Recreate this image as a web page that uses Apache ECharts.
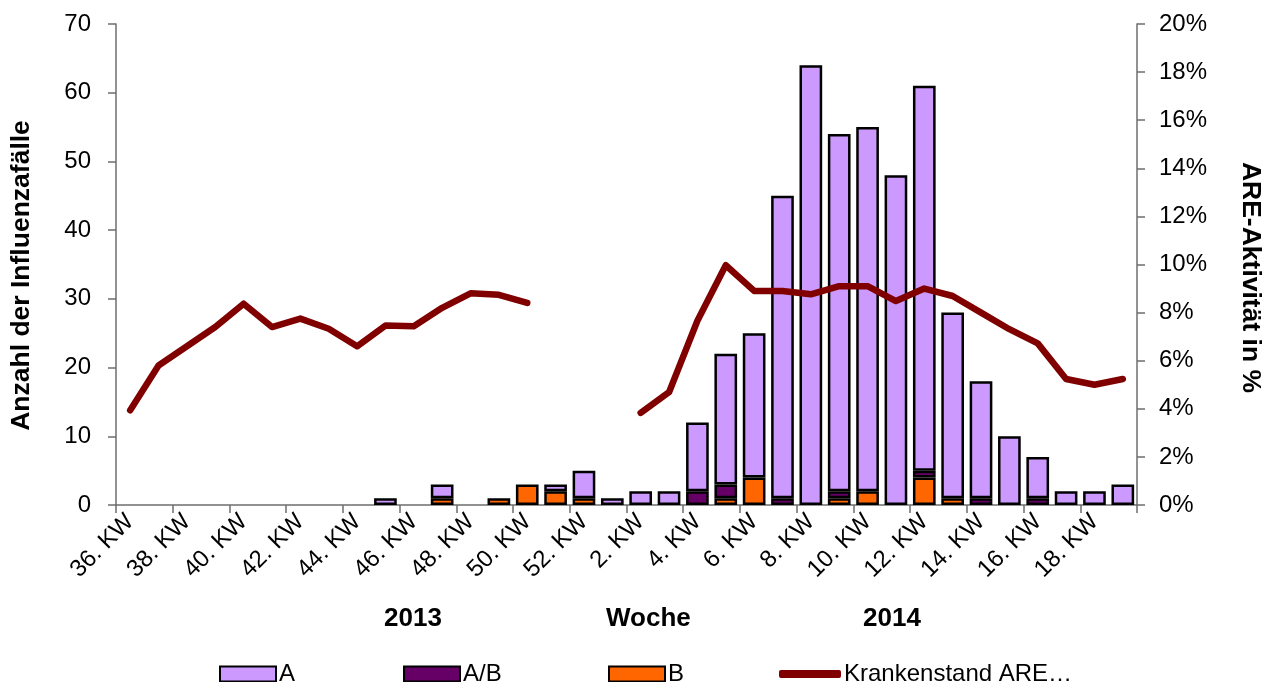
<!DOCTYPE html>
<html>
<head>
<meta charset="utf-8">
<script src="https://cdn.jsdelivr.net/npm/echarts@6/dist/echarts.min.js"></script>
<style>
  html, body { margin: 0; padding: 0; background: #ffffff; }
  #chart { width: 1264px; height: 682px; }
</style>
</head>
<body>
<div id="chart"></div>
<script>
// Calendar weeks: 36–52 of 2013, then 1–19 of 2014
const weeks = [36, 37, 38, 39, 40, 41, 42, 43, 44, 45, 46, 47, 48, 49, 50, 51, 52,
               1, 2, 3, 4, 5, 6, 7, 8, 9, 10, 11, 12, 13, 14, 15, 16, 17, 18, 19];
const weekLabels = weeks.map(w => w + '. KW');

// Influenza cases per week by type
const casesA  = [0, 0, 0, 0, 0, 0, 0, 0, 0, 1, 0, 2, 0, 0, 0, 1, 4,
                 1, 2, 2, 10, 19, 21, 44, 64, 52, 53, 48, 56, 27, 17, 10, 6, 2, 2, 3];
const casesAB = [0, 0, 0, 0, 0, 0, 0, 0, 0, 0, 0, 0, 0, 0, 0, 0, 0,
                 0, 0, 0, 2, 2, 0, 1, 0, 1, 0, 0, 1, 0, 1, 0, 1, 0, 0, 0];
const casesB  = [0, 0, 0, 0, 0, 0, 0, 0, 0, 0, 0, 1, 0, 1, 3, 2, 1,
                 0, 0, 0, 0, 1, 4, 0, 0, 1, 2, 0, 4, 1, 0, 0, 0, 0, 0, 0];

// ARE activity (sick leave rate) in percent; gaps over the turn of the year
const areActivity = [3.94, 5.8, 6.6, 7.4, 8.37, 7.4, 7.75, 7.33, 6.6, 7.46, 7.43, 8.2, 8.8, 8.74, 8.4, null, null,
                     null, 3.83, 4.69, 7.66, 9.97, 8.9, 8.9, 8.76, 9.1, 9.1, 8.48, 9.0, 8.69, 8.0, 7.31, 6.72, 5.24, 5.0, 5.24];

const leftTicks = { min: 0, max: 70, interval: 10 };
const rightTicks = { min: 0, max: 20, interval: 2 };

const FONT = '"Liberation Sans", Arial, sans-serif';
const axisGray = '#6e6e6e';

// empty weeks get no bar segment at all
const seg = arr => arr.map(v => (v === 0 ? '-' : v));

const barBorder = { borderColor: '#000000', borderWidth: 2.5 };

const chart = echarts.init(document.getElementById('chart'), null, { renderer: 'canvas' });

const legendBase = {
  top: 657,
  itemWidth: 56,
  itemHeight: 15,
  itemGap: 0,
  icon: 'rect',
  textStyle: { fontFamily: FONT, fontSize: 24, color: '#000000', padding: [0, 0, 0, -2] },
  selectedMode: false
};

chart.setOption({
  animation: false,
  backgroundColor: '#ffffff',
  textStyle: { fontFamily: FONT },
  grid: { left: 116, right: 127, top: 24, bottom: 177, containLabel: false, outerBoundsMode: 'none' },
  legend: [
    Object.assign({}, legendBase, { left: 214, data: ['A'] }),
    Object.assign({}, legendBase, { left: 398, data: ['A/B'] }),
    Object.assign({}, legendBase, { left: 603, data: ['B'] }),
    Object.assign({}, legendBase, { left: 774, itemWidth: 62, itemHeight: 8, icon: 'roundRect',
      data: ['Krankenstand ARE…'] })
  ],
  xAxis: {
    type: 'category',
    data: weekLabels,
    boundaryGap: true,
    axisLine: { lineStyle: { color: axisGray, width: 1.5 } },
    axisTick: { show: true, alignWithLabel: false, length: 8, inside: false,
                lineStyle: { color: axisGray, width: 1.5 } },
    axisLabel: { interval: 1, rotate: 45, margin: 13, fontSize: 24, color: '#000000', fontFamily: FONT },
    splitLine: { show: false }
  },
  yAxis: [
    {
      type: 'value',
      min: leftTicks.min, max: leftTicks.max, interval: leftTicks.interval,
      name: 'Anzahl der Influenzafälle',
      nameLocation: 'middle',
      nameRotate: 90,
      nameGap: 81,
      nameTextStyle: { fontFamily: FONT, fontSize: 26.5, fontWeight: 'bold', color: '#000000',
                       padding: [0, 0, 0, -22] },
      axisLine: { show: true, lineStyle: { color: axisGray, width: 1.5 } },
      axisTick: { show: true, length: 8, lineStyle: { color: axisGray, width: 1.5 } },
      axisLabel: { fontSize: 24, color: '#000000', margin: 25, fontFamily: FONT },
      splitLine: { show: false }
    },
    {
      type: 'value',
      position: 'right',
      min: rightTicks.min, max: rightTicks.max, interval: rightTicks.interval,
      name: 'ARE-Aktivität in %',
      nameLocation: 'middle',
      nameRotate: -90,
      nameGap: 100,
      nameTextStyle: { fontFamily: FONT, fontSize: 26.5, fontWeight: 'bold', color: '#000000',
                       padding: [0, 0, 0, 26] },
      axisLine: { show: true, lineStyle: { color: axisGray, width: 1.5 } },
      axisTick: { show: true, length: 8, lineStyle: { color: axisGray, width: 1.5 } },
      axisLabel: { fontSize: 24, color: '#000000', margin: 22, fontFamily: FONT, formatter: '{value}%' },
      splitLine: { show: false }
    }
  ],
  graphic: [
    { type: 'text', left: 384, top: 606,
      style: { text: '2013', font: 'bold 26px "Liberation Sans", Arial, sans-serif', fill: '#000000' } },
    { type: 'text', left: 606, top: 606,
      style: { text: 'Woche', font: 'bold 26px "Liberation Sans", Arial, sans-serif', fill: '#000000' } },
    { type: 'text', left: 863, top: 606,
      style: { text: '2014', font: 'bold 26px "Liberation Sans", Arial, sans-serif', fill: '#000000' } }
  ],
  series: [
    {
      name: 'B', type: 'bar', stack: 'flu', yAxisIndex: 0,
      data: seg(casesB), barCategoryGap: '20%',
      itemStyle: Object.assign({ color: '#FF6600' }, barBorder)
    },
    {
      name: 'A/B', type: 'bar', stack: 'flu', yAxisIndex: 0,
      data: seg(casesAB), barCategoryGap: '20%',
      itemStyle: Object.assign({ color: '#660066' }, barBorder)
    },
    {
      name: 'A', type: 'bar', stack: 'flu', yAxisIndex: 0,
      data: seg(casesA), barCategoryGap: '20%',
      itemStyle: Object.assign({ color: '#CC99FF' }, barBorder)
    },
    {
      name: 'Krankenstand ARE…', type: 'line', yAxisIndex: 1,
      data: areActivity,
      connectNulls: false,
      showSymbol: false,
      symbol: 'none',
      z: 5,
      itemStyle: { color: '#800000' },
      lineStyle: { color: '#800000', width: 6.5, cap: 'round', join: 'round' }
    }
  ]
});
</script>
</body>
</html>
